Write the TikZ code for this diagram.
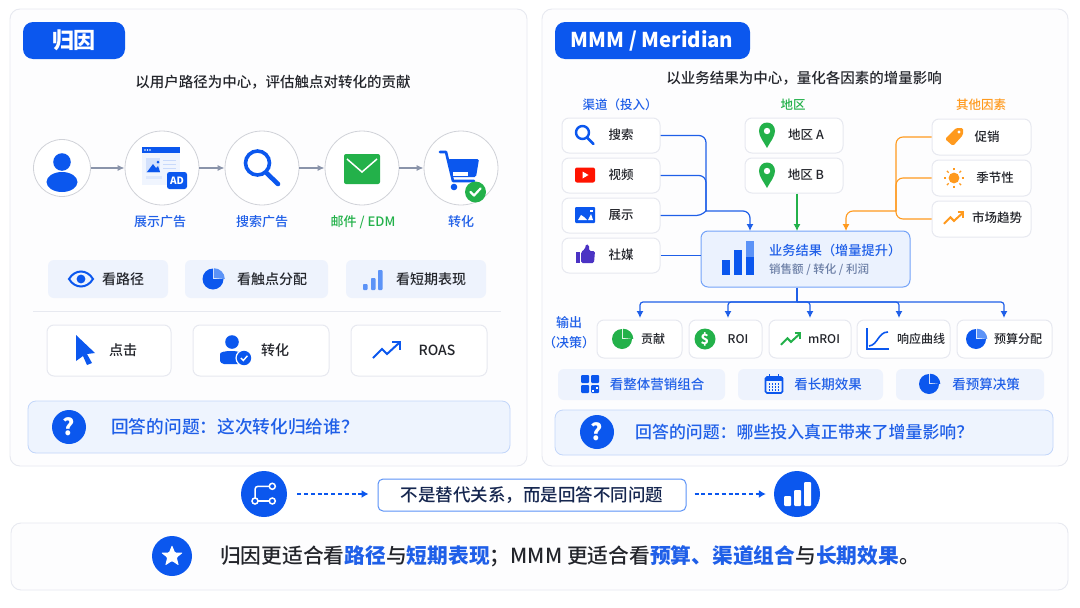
\documentclass[tikz,border=0pt]{standalone}
\usepackage{fontspec}
\setmainfont{Noto Sans CJK SC}
\newfontfamily\med{Noto Sans CJK SC Medium}
\usetikzlibrary{arrows.meta}
\definecolor{bl}{HTML}{0B57EE}
\definecolor{blt}{HTML}{1F5FE8}
\definecolor{gr}{HTML}{23B14A}
\definecolor{og}{HTML}{FF9A1E}
\definecolor{ink}{HTML}{23252B}
\definecolor{navy}{HTML}{15264F}
\definecolor{edge}{HTML}{E7E9F0}
\definecolor{pill}{HTML}{EEF3FD}
\definecolor{qfill}{HTML}{EEF4FE}
\definecolor{qedge}{HTML}{C2D6FA}
\definecolor{gray1}{HTML}{8A94AA}
\definecolor{soft}{HTML}{6C7FA6}
\definecolor{ltbl}{HTML}{5C93F7}
\definecolor{thumbc}{HTML}{4B33C4}
\definecolor{panelc}{HTML}{FDFDFE}
\newcount\tn
\newcommand\fs[1]{\fontsize{#1}{#1}\selectfont}
\tikzset{
 panel/.style={draw=edge,fill=panelc,line width=.9pt,rounded corners=10pt,inner sep=0pt},
 titlebox/.style={fill=bl,rounded corners=10pt,inner sep=0pt},
 pillbox/.style={fill=pill,rounded corners=6pt,inner sep=0pt},
 cardbox/.style={draw=edge,fill=white,line width=1pt,rounded corners=7pt,inner sep=0pt},
 qbox/.style={draw=qedge,fill=qfill,line width=.8pt,rounded corners=8pt,inner sep=0pt},
 resbox/.style={draw=ltbl!85,fill=bl!8,line width=1pt,rounded corners=7pt,inner sep=0pt},
 notebox/.style={draw=ltbl,fill=white,line width=1pt,rounded corners=5pt,inner sep=0pt},
 ring/.style={circle,draw=edge!90!black,fill=white,line width=.8pt,inner sep=0pt},
 txt/.style={inner sep=0pt,text=ink,font=\med\fs{13}},
 flow/.style={gray1,line width=1.2pt,-{Latex[length=7pt,width=6pt]}},
 conb/.style={blt,line width=1.2pt,rounded corners=7pt},
 cong/.style={gr,line width=1.1pt},
 cono/.style={og,line width=1.1pt,rounded corners=7pt},
 tip/.style={-{Latex[length=7pt,width=7pt]}},
 dashc/.style={bl,line width=1.2pt,dash pattern=on 4pt off 2.8pt,-{Latex[length=7pt,width=8pt]}},
}
\newcommand\Bx[6]{\node[#1,minimum width={(#5-#3)*1pt},minimum height={(#6-#4)*1pt}] (#2) at ({(#3+#5)/2},{(#4+#6)/2}) {};}
\newcommand\T[4][]{\global\advance\tn by 1 \node[txt,#1] (t\the\tn) at (#2,#3) {#4};}
\newcommand\At[2]{\begin{scope}[shift={(#1)}]#2\end{scope}}
% icons
\newcommand\iUser{\fill[bl] (0,-8) circle[radius=8.8]; \fill[bl] (0,12) ellipse[x radius=15.5,y radius=10];}
\newcommand\iAD{%
 \fill[bl!6] (-18,-21) rectangle (20,17);
 \fill[bl] (-18,-21) rectangle (20,-15);
 \foreach \x in {-15,-12.5,-10}{\fill[white] (\x,-18) circle[radius=.8];}
 \fill[bl!18] (-14,-10) rectangle (0,5);
 \fill[bl] (-13,4) -- (-7,-4) -- (-4,0) -- (-2,-2) -- (0,4) -- cycle;
 \fill[bl] (-2,-6) circle[radius=1.5];
 \foreach \y in {-8,-4,0}{\fill[bl!22] (3,\y) rectangle (16,{\y+1.4});}
 \fill[bl!14] (-14,8) rectangle (2,11);
 \fill[bl,rounded corners=2.5pt] (7,4) rectangle (27,21);}
\newcommand\iSearch{\draw[bl,line width=3.6pt] (-4.5,-5) circle[radius=12];
 \draw[bl,line width=4.6pt,line cap=round] (4.5,5) -- (16,16);}
\newcommand\iSearchS{\draw[bl,line width=2.4pt] (-2.5,-2.5) circle[radius=6.5];
 \draw[bl,line width=2.6pt,line cap=round] (2.5,3) -- (8.5,9);}
\newcommand\iMail{\fill[gr,rounded corners=2pt] (-18,-14) rectangle (18,16);
 \draw[white,line width=1.5pt] (-15,-9) -- (0,4) -- (15,-9);}
\newcommand\iCart{\draw[bl,line width=2.6pt,line cap=round,line join=round] (-21,-16) -- (-15,-16) -- (-8,13) -- (13,13);
 \fill[bl,rounded corners=1.5pt] (-13,-9) -- (18,-9) -- (15,9) -- (-9,9) -- cycle;
 \fill[white] (-8,4) rectangle (7,7.5);
 \fill[bl] (-7,19) circle[radius=3.3];
 \fill[gr] (14.5,24) circle[radius=10.5];
 \draw[white,line width=2.2pt,line cap=round,line join=round] (9.5,24) -- (13,27.5) -- (19.5,20.5);}
\newcommand\iEye{\draw[bl,line width=2pt] (-12,0) .. controls (-6,-10) and (6,-10) .. (12,0) .. controls (6,10) and (-6,10) .. (-12,0) -- cycle;
 \fill[bl] (0,0) circle[radius=4.4];}
\newcommand\iPie[3]{\fill[#1] (0,0) -- (#3,0) arc[start angle=0,end angle=270,radius=#3] -- cycle;
 \fill[#2] (1,-1) -- (1,{-#3-.3}) arc[start angle=-90,end angle=0,radius={#3+.3}] -- cycle;}
\newcommand\iBars{\fill[ltbl,rounded corners=.8pt] (-9,4) rectangle (-4.5,10);\fill[ltbl,rounded corners=.8pt] (-1,-2) rectangle (3.5,10);\fill[ltbl,rounded corners=.8pt] (6,-10) rectangle (10.5,10);}
\newcommand\iCursor{\fill[bl,line join=round] (-9,-15) -- (10,3) -- (2,4) -- (7,13) -- (2,15) -- (-2,6) -- (-9,11) -- cycle;}
\newcommand\iUserC{\fill[bl] (-2,-8) circle[radius=6.8];
 \fill[bl,rounded corners=4pt] (-14,14) -- (-14,8) .. controls (-14,0) and (8,0) .. (8,8) -- (8,14) -- cycle;
 \fill[white] (10,8) circle[radius=8.6];
 \fill[bl] (10,8) circle[radius=7.2];
 \draw[white,line width=1.4pt] (6.8,8) -- (9.3,10.5) -- (13.4,5.8);}
\newcommand\iTrend[1]{\draw[#1,line width=2pt,line join=miter] (-14,8) -- (-5,-1) -- (0,4) -- (12,-7);
 \draw[#1,line width=2pt] (5,-8) -- (13,-8) -- (13,0);}
\newcommand\iQ{\fill[bl] (0,0) circle[radius=17];}
\newcommand\iYT{\fill[red!85!orange,rounded corners=2pt] (-10,-7.5) rectangle (10,7.5); \fill[white] (-2.5,-3.5) -- (3.5,0) -- (-2.5,3.5) -- cycle;}
\newcommand\iImg{\fill[bl,rounded corners=1pt] (-10,-8) rectangle (10,8);
 \fill[white] (-7,5) -- (-4,0) -- (-1,2) -- (2,5) -- cycle;\fill[white] (3,5) -- (6,-1) -- (8,5) -- cycle;\fill[white] (5,-5) rectangle (8,-3.5);}
\newcommand\iThumb{\fill[thumbc] (-9,-3) rectangle (-5.5,8);
 \fill[thumbc,rounded corners=1.5pt] (-4,-3) -- (0,-6) -- (1,-11) -- (4,-10) -- (4,-4) -- (10,-4) -- (9,8) -- (-4,8) -- cycle;}
\newcommand\iPin{\fill[gr] (0,13) .. controls (-3,7) and (-8,2) .. (-8,-4) .. controls (-8,-9) and (-4.5,-12.5) .. (0,-12.5) .. controls (4.5,-12.5) and (8,-9) .. (8,-4) .. controls (8,2) and (3,7) .. (0,13) -- cycle;
 \fill[white] (0,-4) circle[radius=3.2];}
\newcommand\iTag{\fill[og,rounded corners=1.5pt] (-9,2) -- (2,-9) -- (9,-9) -- (9,-2) -- (-1,9) -- cycle; \fill[white] (5,-5) circle[radius=1.6];}
\newcommand\iSun{\fill[og] (0,0) circle[radius=5.4];
 \foreach \a in {0,45,...,315}{\draw[og,line width=1.3pt] (\a:7.6) -- (\a:10);}}
\newcommand\iCurve{\draw[bl,line width=1.6pt] (-11,-11) -- (-11,10) -- (11,10);
 \draw[bl,line width=1.6pt] (-9,7) .. controls (0,6) and (0,-7) .. (10,-7);}
\newcommand\iGrid{\fill[bl,rounded corners=1pt] (-9,-9) rectangle (-1,-1);\fill[bl,rounded corners=1pt] (1,-9) rectangle (9,-1);\fill[bl,rounded corners=1pt] (-9,1) rectangle (-1,9);\fill[bl,rounded corners=1pt] (1,1) rectangle (9,9);\fill[white] (2,6) rectangle (4,8);\fill[white] (6,2.5) rectangle (8,4.5);}
\newcommand\iCal{\draw[bl,line width=1.6pt,rounded corners=1.5pt] (-8.5,-7) rectangle (8.5,9);
 \fill[bl] (-8.5,-7) rectangle (8.5,-3);
 \draw[bl,line width=1.4pt] (-4.5,-10) -- (-4.5,-6) (4.5,-10) -- (4.5,-6);
 \foreach \x in {-4.5,-1.5,1.5,4.5}\foreach \y in {0,3,6}{\fill[bl] (\x-.7,\y-.7) rectangle (\x+.7,\y+.7);}}

\begin{document}
\begin{tikzpicture}[x=1pt,y=-1pt]
\useasboundingbox (0,0) rectangle (1080,608);
\fill[white] (0,0) rectangle (1080,608);

% ---------- panels
\Bx{panel}{pL}{10}{9}{527}{466}
\Bx{panel}{pR}{542}{9}{1068}{466}
\Bx{titlebox}{ttL}{23}{22}{125}{59}
\Bx{titlebox}{ttR}{555}{22}{750}{59}
\T[text=white,font=\bfseries\fs{22}]{74}{40}{归因}
\T[text=white,font=\bfseries\fs{20.4}]{652}{41}{MMM / Meridian}
\T[font=\med\fs{14.5}]{273}{82}{以用户路径为中心，评估触点对转化的贡献}
\T[font=\med\fs{14.5}]{804}{78}{以业务结果为中心，量化各因素的增量影响}

% ---------- left path
\node[ring,minimum size=57pt] (cU) at (62,168) {};
\node[ring,minimum size=74pt] (cA) at (162,168) {};
\node[ring,minimum size=74pt] (cS) at (262,168) {};
\node[ring,minimum size=74pt] (cM) at (362,168) {};
\node[ring,minimum size=74pt] (cC) at (461,168) {};
\draw[flow] (cU) -- (cA);
\draw[flow] (cA) -- (cS);
\draw[flow] (cS) -- (cM);
\draw[flow] (cM) -- (cC);
\At{62,170}{\iUser}
\At{160,168}{\iAD}
\T[text=white,font=\bfseries\fs{10}]{177}{181}{AD}
\At{262,168}{\iSearch}
\At{362,168}{\iMail}
\At{461,168}{\iCart}
\T[text=blt,font=\med\fs{13}]{160}{222}{展示广告}
\T[text=blt,font=\med\fs{13}]{262}{222}{搜索广告}
\T[text=gr,font=\med\fs{13}]{363}{222}{邮件 / EDM}
\T[text=blt,font=\med\fs{13}]{461}{222}{转化}

% ---------- left pills
\Bx{pillbox}{p1}{48}{260}{168}{298}
\Bx{pillbox}{p2}{185}{260}{328}{298}
\Bx{pillbox}{p3}{346}{260}{486}{298}
\At{81,279}{\iEye}
\At{213,279}{\iPie{bl}{ltbl}{10.5}}
\At{372,280}{\iBars}
\T[font=\med\fs{14}]{123}{279}{看路径}
\T[font=\med\fs{14}]{272}{279}{看触点分配}
\T[font=\med\fs{14}]{431}{279}{看短期表现}
\draw[edge,line width=1pt] (33,311) -- (501,311);
\Bx{cardbox}{k1}{47}{325}{171}{376}
\Bx{cardbox}{k2}{193}{325}{329}{376}
\Bx{cardbox}{k3}{351}{325}{487}{376}
\At{85,350}{\iCursor}
\At{234,350}{\iUserC}
\At{387,350}{\iTrend{bl}}
\T[font=\med\fs{14}]{123}{350}{点击}
\T[font=\med\fs{14}]{275}{350}{转化}
\T[font=\med\fs{14}]{437}{350}{ROAS}
\Bx{qbox}{qL}{28}{401}{510}{453}
\At{69,427}{\iQ}
\T[text=white,font=\bfseries\fs{23}]{69}{427}{?}
\T[anchor=west,text=blt,font=\med\fs{17.7}]{111}{427}{回答的问题：这次转化归给谁？}

% ---------- right inputs
\T[text=blt,font=\med\fs{12.5}]{620}{105}{渠道（投入）}
\T[text=gr,font=\med\fs{12.5}]{793}{105}{地区}
\T[text=og,font=\med\fs{12.5}]{981}{105}{其他因素}
\Bx{cardbox}{chA}{562}{118}{660}{153}
\Bx{cardbox}{chB}{562}{158}{660}{193}
\Bx{cardbox}{chC}{562}{198}{660}{233}
\Bx{cardbox}{chD}{562}{238}{660}{273}
\Bx{cardbox}{reA}{745}{118}{843}{153}
\Bx{cardbox}{reB}{745}{158}{843}{193}
\Bx{cardbox}{otA}{932}{119}{1031}{155}
\Bx{cardbox}{otB}{932}{160}{1031}{196}
\Bx{cardbox}{otC}{932}{201}{1031}{237}
\Bx{resbox}{res}{701}{231}{910}{287}
\coordinate (busB) at (706,211);
\coordinate (inB) at (750,231);
\coordinate (busO) at (896,211);
\coordinate (inO) at (846,231);
\coordinate (inG) at (797,231);
\draw[conb] (chA.east) -| (busB);
\draw[conb] (chB.east) -| (busB);
\draw[conb,rounded corners=4pt] (chC.east) -- ++(40,0) -- (busB);
\draw[conb,tip] (busB) -| (inB);
\draw[conb] (chD.east) -- (res.west |- chD.east);
\draw[cong,tip] (reB.south -| inG) -- (inG);
\draw[cono] (otA.west) -| (busO);
\draw[cono] (otB.west) -| (busO);
\draw[cono] (otC.west) -| (busO);
\draw[cono,tip] (busO) -| (inO);
\At{585,135}{\iSearchS}
\At{585,175}{\iYT}
\At{585,215}{\iImg}
\At{585,255}{\iThumb}
\T[font=\med\fs{12.5}]{621}{135}{搜索}
\T[font=\med\fs{12.5}]{621}{175}{视频}
\T[font=\med\fs{12.5}]{621}{215}{展示}
\T[font=\med\fs{12.5}]{621}{255}{社媒}
\At{767,135}{\iPin}
\At{767,175}{\iPin}
\T[font=\med\fs{12.5}]{806}{135}{地区 A}
\T[font=\med\fs{12.5}]{806}{175}{地区 B}
\At{954,137}{\iTag}
\At{954,178}{\iSun}
\At{954,218}{\begin{scope}[scale=.72]\iTrend{og}\end{scope}}
\T[font=\med\fs{12.5}]{987}{137}{促销}
\T[font=\med\fs{12.5}]{995}{178}{季节性}
\T[font=\med\fs{12.5}]{997}{218}{市场趋势}
% result
\fill[bl] (722,260) rectangle (730,275);
\fill[bl] (734,250) rectangle (742,275);
\fill[bl] (746,257) rectangle (754,275);
\fill[ltbl] (746,241) rectangle (754,257);
\T[anchor=west,text=blt,font=\med\fs{13.2}]{769}{250}{业务结果（增量提升）}
\T[anchor=west,text=soft,font=\med\fs{11.5}]{769}{270}{销售额 / 转化 / 利润}
% outputs
\Bx{cardbox}{ou1}{597}{320}{682}{358}
\Bx{cardbox}{ou2}{689}{320}{762}{358}
\Bx{cardbox}{ou3}{769}{320}{851}{358}
\Bx{cardbox}{ou4}{857}{320}{950}{358}
\Bx{cardbox}{ou5}{957}{320}{1052}{358}
\coordinate (busT) at (797,302);
\coordinate (o1) at (640,318);
\coordinate (o2) at (728,318);
\coordinate (o3) at (810,318);
\coordinate (o4) at (899,318);
\coordinate (o5) at (1004,318);
\draw[conb,rounded corners=4pt] (res.south -| busT) -- (busT);
\draw[conb,tip,rounded corners=3pt] (busT) -| (o1);
\draw[conb,tip,rounded corners=3pt] (busT) -| (o2);
\draw[conb,tip,rounded corners=3pt] (busT) -| (o3);
\draw[conb,tip,rounded corners=3pt] (busT) -| (o4);
\draw[conb,tip,rounded corners=3pt] (busT) -| (o5);
\T[text=blt,font=\med\fs{13}]{569}{323}{输出}
\T[text=blt,font=\med\fs{13}]{569}{343}{（决策）}
\At{622,339}{\iPie{gr}{gr}{10}}
\At{705,339}{\fill[gr] (0,0) circle[radius=10.5];}
\T[text=white,font=\bfseries\fs{14}]{705}{339}{\$}
\At{791,339}{\begin{scope}[scale=.72]\iTrend{gr}\end{scope}}
\At{878,339}{\iCurve}
\At{976,339}{\iPie{bl}{ltbl}{10}}
\T[font=\med\fs{12}]{653}{339}{贡献}
\T[font=\med\fs{12}]{738}{339}{ROI}
\T[font=\med\fs{12}]{824}{339}{mROI}
\T[font=\med\fs{12}]{921}{339}{响应曲线}
\T[font=\med\fs{12}]{1018}{339}{预算分配}
% pills right
\Bx{pillbox}{r1}{558}{369}{725}{400}
\Bx{pillbox}{r2}{738}{369}{883}{400}
\Bx{pillbox}{r3}{896}{369}{1044}{400}
\At{590,384}{\iGrid}
\At{774,384}{\iCal}
\At{929,384}{\iPie{bl}{bl}{10}}
\T[text=blt,font=\med\fs{13.5}]{657}{384}{看整体营销组合}
\T[text=blt,font=\med\fs{13.5}]{828}{384}{看长期效果}
\T[text=blt,font=\med\fs{13.5}]{986}{384}{看预算决策}
\Bx{qbox}{qR}{555}{410}{1053}{455}
\At{597,432}{\iQ}
\T[text=white,font=\bfseries\fs{23}]{597}{432}{?}
\T[anchor=west,text=blt,font=\med\fs{16.9}]{635}{432}{回答的问题：哪些投入真正带来了增量影响？}

% ---------- bridge
\node[circle,fill=bl,minimum size=46pt,inner sep=0pt] (bA) at (264,494) {};
\node[circle,fill=bl,minimum size=46pt,inner sep=0pt] (bB) at (797,494) {};
\Bx{notebox}{note}{378}{479}{686}{511}
\T[text=navy,font=\med\fs{17.5}]{532}{495}{不是替代关系，而是回答不同问题}
\coordinate (dA) at ([xshift=10pt]bA.east);
\coordinate (dB) at ([xshift=-9pt]note.west |- bA);
\coordinate (dC) at ([xshift=8pt]note.east |- bB);
\coordinate (dD) at ([xshift=-8pt]bB.west);
\draw[dashc] (dA) -- (dB);
\draw[dashc] (dC) -- (dD);
\At{264,494}{\draw[white,line width=1.5pt,rounded corners=3pt] (8.3,-7.7) -- (-9,-7.7) -- (-9,7);
 \draw[white,line width=1.5pt] (-9,7) -- (8.3,7);
 \fill[bl,draw=white,line width=1.5pt] (8.3,-7.7) circle[radius=3];
 \fill[bl,draw=white,line width=1.5pt] (-9,7) circle[radius=3];
 \fill[bl,draw=white,line width=1.5pt] (8.3,7) circle[radius=3];}
\At{797,494}{\fill[white,rounded corners=1pt] (-13,2) rectangle (-6,12);\fill[white,rounded corners=1pt] (-3,-4) rectangle (4,12);\fill[white,rounded corners=1pt] (7,-12) rectangle (14,12);}

% ---------- bottom
\Bx{panel}{pB}{11}{523}{1068}{590}
\node[circle,fill=bl,minimum size=40pt,inner sep=0pt] (bS) at (172,556) {};
\At{172,556}{\fill[white,rounded corners=1pt] (0,-11) -- (3,-3.5) -- (11,-3.4) -- (4.8,1.5) -- (6.8,9.5) -- (0,5) -- (-6.8,9.5) -- (-4.8,1.5) -- (-11,-3.4) -- (-3,-3.5) -- cycle;}
\T[anchor=west,font=\med\fs{20.75}]{220}{556}{归因更适合看{\color{blt}\bfseries 路径}与{\color{blt}\bfseries 短期表现}；MMM 更适合看{\color{blt}\bfseries 预算、渠道组合}与{\color{blt}\bfseries 长期效果}。}
\end{tikzpicture}
\end{document}
